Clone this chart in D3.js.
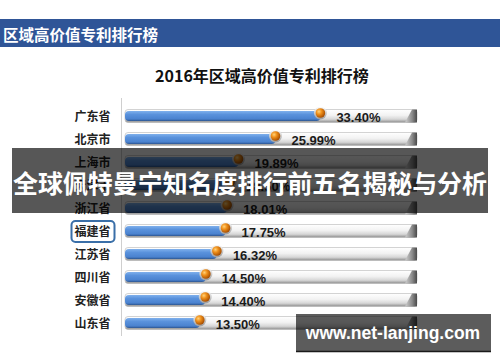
<!DOCTYPE html>
<html>
<head>
<meta charset="utf-8">
<script src="https://cdn.jsdelivr.net/npm/d3@7"></script>
<style>
  html, body { margin: 0; padding: 0; background: #fff; }
  svg { display: block; }
</style>
</head>
<body>
<svg id="chart" width="500" height="362"></svg>
<script>
// ---- data ----
const categories = ["广东省", "北京市", "上海市", "天津市", "浙江省", "福建省", "江苏省", "四川省", "安徽省", "山东省"];
const values = [33.40, 25.99, 19.89, 18.50, 18.01, 17.75, 16.32, 14.50, 14.40, 13.50];
const highlighted = ["福建省"];
const headerText = "区域高价值专利排行榜";
const chartTitle = "2016年区域高价值专利排行榜";
const bannerText = "全球佩特曼宁知名度排行前五名揭秘与分析";
const watermarkText = "www.net-lanjing.com";
const xDomain = [0, 50];

const svg = d3.select("#chart");
const CJK = "'Noto Sans CJK SC', 'Noto Sans', sans-serif";

const data = categories.map((c, i) => ({ cat: c, val: values[i] }));

// scales
const x = d3.scaleLinear().domain(xDomain).range([118, 421]);
const y = d3.scaleBand().domain(categories).range([104.5, 334.5]).padding(0);
const cyOf = c => y(c) + y.bandwidth() / 2;

// defs
const defs = svg.append("defs");
const trackG = defs.append("linearGradient").attr("id", "trackG").attr("x1", 0).attr("y1", 0).attr("x2", 0).attr("y2", 1);
[["0%", "#ffffff"], ["45%", "#f2f2f2"], ["75%", "#d6d6d6"], ["100%", "#8c8c8c"]].forEach(s => trackG.append("stop").attr("offset", s[0]).attr("stop-color", s[1]));
const endG = defs.append("linearGradient").attr("id", "endG").attr("x1", 0).attr("y1", 0).attr("x2", 1).attr("y2", 0);
[["0%", "#d0d0d0"], ["60%", "#8a8a8a"], ["100%", "#4a4a4a"]].forEach(s => endG.append("stop").attr("offset", s[0]).attr("stop-color", s[1]));
const barG = defs.append("linearGradient").attr("id", "barG").attr("x1", 0).attr("y1", 0).attr("x2", 0).attr("y2", 1);
[["0%", "#7fb0ec"], ["35%", "#5a92dc"], ["80%", "#4a82cf"], ["100%", "#2c5590"]].forEach(s => barG.append("stop").attr("offset", s[0]).attr("stop-color", s[1]));
const ballG = defs.append("radialGradient").attr("id", "ballG").attr("cx", "35%").attr("cy", "35%").attr("r", "70%");
[["0%", "#ffd27a"], ["40%", "#f0901a"], ["100%", "#a24a00"]].forEach(s => ballG.append("stop").attr("offset", s[0]).attr("stop-color", s[1]));
const ringG = defs.append("linearGradient").attr("id", "ringG").attr("x1", 0).attr("y1", 0).attr("x2", 0).attr("y2", 1);
[["0%", "#ffffff"], ["100%", "#9a9a9a"]].forEach(s => ringG.append("stop").attr("offset", s[0]).attr("stop-color", s[1]));

// background
svg.append("rect").attr("width", 500).attr("height", 362).attr("fill", "#ffffff");

// header bar
svg.append("rect").attr("x", 0).attr("y", 19).attr("width", 500).attr("height", 28).attr("fill", "#2f5597");
svg.append("text").attr("x", 3).attr("y", 40.5).attr("fill", "#ffffff")
  .attr("font-family", CJK).attr("font-weight", "bold").attr("font-size", 15.5)
  .text(headerText);

// title
svg.append("text").attr("x", 262).attr("y", 81.5).attr("text-anchor", "middle").attr("fill", "#111")
  .attr("font-family", CJK).attr("font-weight", "bold").attr("font-size", 16)
  .text(chartTitle);

// axis line
svg.append("line").attr("x1", 121.5).attr("x2", 121.5).attr("y1", 98).attr("y2", 336)
  .attr("stroke", "#cfcfcf").attr("stroke-width", 1);

// category labels
const labels = svg.append("g");
labels.selectAll("rect").data(data.filter(d => highlighted.includes(d.cat))).join("rect")
  .attr("x", 71.5).attr("y", d => cyOf(d.cat) - 10).attr("width", 43).attr("height", 21)
  .attr("rx", 4).attr("fill", "#fff").attr("stroke", "#3a6fa8").attr("stroke-width", 2);
labels.selectAll("text").data(data).join("text")
  .attr("x", 110.5).attr("y", d => cyOf(d.cat) + 4.5).attr("text-anchor", "end")
  .attr("font-family", CJK).attr("font-weight", "bold").attr("font-size", 12).attr("fill", "#222")
  .text(d => d.cat);

// rows
const rows = svg.append("g").selectAll("g").data(data).join("g");
// track
rows.append("rect")
  .attr("x", 125).attr("y", d => cyOf(d.cat) - 6.5).attr("width", 292).attr("height", 13)
  .attr("rx", 3).attr("fill", "url(#trackG)").attr("stroke", "#b5b5b5").attr("stroke-width", 0.6);
rows.append("path")
  .attr("d", d => {
    const c = cyOf(d.cat);
    return `M405,${c + 6.5} L417,${c + 6.5} L417,${c - 6.5} L412,${c - 6.5} Z`;
  })
  .attr("fill", "url(#endG)");
// blue bar
rows.append("rect")
  .attr("x", 125).attr("y", d => cyOf(d.cat) - 5).attr("width", d => x(d.val) - 125).attr("height", 10)
  .attr("rx", 4).attr("fill", "url(#barG)");
// marker
rows.append("circle")
  .attr("cx", d => x(d.val)).attr("cy", d => cyOf(d.cat) - 3).attr("r", 6.5)
  .attr("fill", "url(#ringG)");
rows.append("circle")
  .attr("cx", d => x(d.val)).attr("cy", d => cyOf(d.cat) - 3).attr("r", 4.8)
  .attr("fill", "url(#ballG)");
// value labels
rows.append("text")
  .attr("x", d => x(d.val) + 16).attr("y", d => cyOf(d.cat) + 5.5)
  .attr("font-family", "'Liberation Sans', Arial, sans-serif").attr("font-weight", "bold")
  .attr("font-size", 13).attr("fill", "#1a1a1a")
  .text(d => d.val.toFixed(2) + "%");

// translucent banner
svg.append("rect").attr("x", 12).attr("y", 148).attr("width", 476).attr("height", 65)
  .attr("fill", "#000").attr("fill-opacity", 0.66);
svg.append("text").attr("x", 250).attr("y", 192.5).attr("text-anchor", "middle")
  .attr("font-family", CJK).attr("font-weight", "bold").attr("font-size", 25)
  .attr("fill", "#ffffff").attr("textLength", 474).attr("lengthAdjust", "spacingAndGlyphs")
  .text(bannerText);

// watermark
svg.append("rect").attr("x", 296).attr("y", 314).attr("width", 195).attr("height", 38)
  .attr("fill", "#000").attr("fill-opacity", 0.64);
svg.append("line").attr("x1", 296).attr("x2", 491).attr("y1", 351.5).attr("y2", 351.5)
  .attr("stroke", "#1a1a1a").attr("stroke-width", 1.5);
svg.append("text").attr("x", 393).attr("y", 339).attr("text-anchor", "middle")
  .attr("font-family", "'Liberation Sans', Arial, sans-serif").attr("font-weight", "bold")
  .attr("font-size", 17.5).attr("fill", "#ffffff")
  .text(watermarkText);
</script>
</body>
</html>
